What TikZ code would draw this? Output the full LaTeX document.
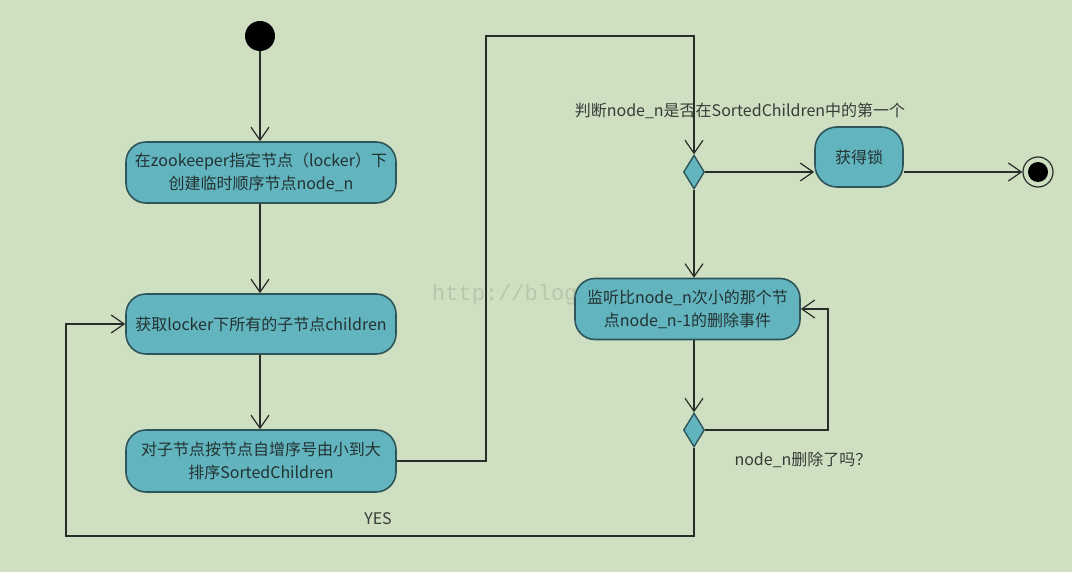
\documentclass[tikz,border=0pt]{standalone}
\usepackage{fontspec}
\setmainfont{Noto Sans CJK SC}
\newfontfamily\wmfont{Liberation Mono}
\usetikzlibrary{arrows.meta,shapes.geometric}
\definecolor{bg}{RGB}{207,223,193}
\definecolor{boxfill}{RGB}{98,180,190}
\definecolor{boxline}{RGB}{45,85,90}
\definecolor{conn}{RGB}{40,45,40}
\definecolor{txt}{RGB}{35,50,50}
\definecolor{lbl}{RGB}{55,60,55}
\tikzset{
  actbox/.style={draw=boxline, line width=1.6pt, fill=boxfill, rounded corners=20pt,
    minimum width=270pt, align=center, text=txt, inner sep=4pt,
    font=\fontsize{16}{23}\selectfont},
  decis/.style={draw=boxline, line width=1.4pt, fill=boxfill, diamond, minimum width=21pt,
    minimum height=34pt, inner sep=0pt},
  conn/.style={draw=conn, line width=1.3pt},
  arr/.style={conn, -{Straight Barb[length=13pt,width=18pt,line width=1.2pt]}},
  lbltext/.style={text=lbl, font=\fontsize{16}{18}\selectfont, inner sep=0pt}
}
\begin{document}
\begin{tikzpicture}[x=1pt,y=-1pt]
\fill[bg] (0,0) rectangle (1072,572);
\useasboundingbox (0,0) rectangle (1072,572);
% watermark
\node[text=black!11!bg, font=\wmfont\fontsize{22}{22}\selectfont, anchor=west, inner sep=0pt] (wm) at (432,295) {http://blog};
% nodes
\node[circle, fill=black, minimum size=30pt, inner sep=0pt] (start) at (260,36) {};
\node[actbox, minimum height=61pt] (b1) at (261,172.5) {在zookeeper指定节点（locker）下\\创建临时顺序节点node\_n};
\node[actbox, minimum height=60pt] (b2) at (261,324) {获取locker下所有的子节点children};
\node[actbox, minimum height=62pt] (b3) at (261,461) {对子节点按节点自增序号由小到大\\排序SortedChildren};
\node[decis] (d1) at (694,172) {};
\node[actbox, minimum width=88pt, minimum height=60pt, rounded corners=22pt] (lock) at (859,157) {获得锁};
\node[circle, draw=conn, line width=1.2pt, fill=bg, minimum size=30pt, inner sep=0pt] (endn) at (1038,172) {};
\fill[black] (endn.center) circle (10pt);
\node[actbox, minimum width=225pt, minimum height=61pt] (b4) at (687.5,309) {监听比node\_n次小的那个节\\点node\_n-1的删除事件};
\node[decis] (d2) at (694,430) {};
% labels
\node[lbltext] (q1) at (740,111) {判断node\_n是否在SortedChildren中的第一个};
\node[lbltext] (q2) at (803,460) {node\_n删除了吗？};
\node[lbltext] (yes) at (378,519) {YES};
% coordinates
\coordinate (c1) at (486,461);
\coordinate (c2) at (486,36);
\coordinate (c3) at (694,36);
\coordinate (c4) at (828,430);
\coordinate (c5) at (828,309);
\coordinate (c6) at (694,536);
\coordinate (c7) at (66,536);
\coordinate (c8) at (66,324);
% connectors
\draw[arr] (start) -- (start |- b1.north);
\draw[arr] (b1.south -| start) -- (start |- b2.north);
\draw[arr] (b2.south -| start) -- (start |- b3.north);
\draw[arr] (b3.east |- c1) -- (c1) -- (c2) -- (c3) -- (d1.north);
\draw[arr] (d1.east) -- (lock.west |- d1);
\draw[arr] (lock.east |- d1) -- (endn.west);
\draw[arr] (d1.south) -- (d1 |- b4.north);
\draw[arr] (d1 |- b4.south) -- (d2.north);
\draw[arr] (d2.east) -- (c4) -- (c5) -- (b4.east |- c5);
\draw[arr] (d2.south) -- (c6) -- (c7) -- (c8) -- (b2.west |- c8);
\end{tikzpicture}
\end{document}
